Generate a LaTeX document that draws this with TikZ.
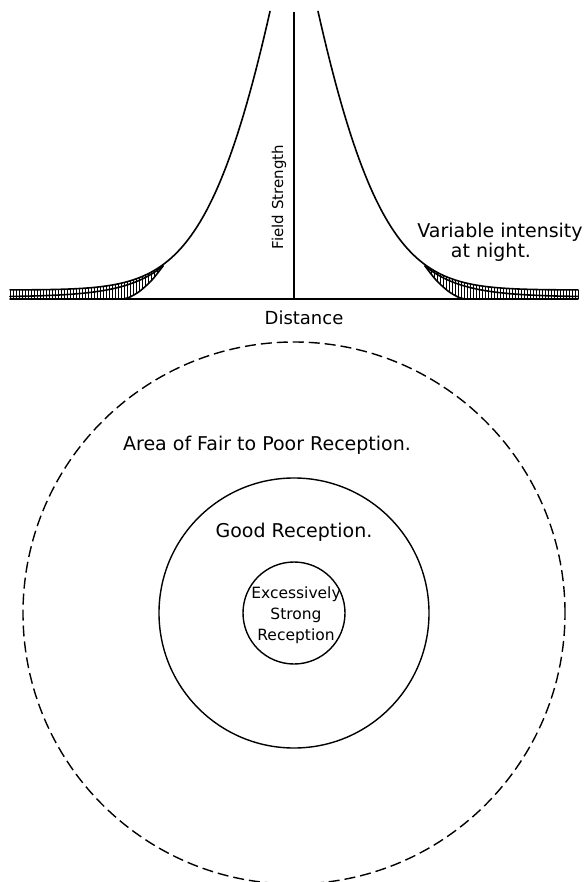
\documentclass[tikz,border=0pt]{standalone}
\usepackage{fontspec}
\setmainfont{DejaVu Sans}
\usepackage{tikz}
\usetikzlibrary{calc}

\begin{document}
\begin{tikzpicture}[x=1pt,y=-1pt,
    curve/.style={line width=1.6pt,line cap=round},
    axis/.style={line width=1.1pt},
    hatch/.style={line width=0.6pt},
    zone/.style={line width=1.4pt},
    label/.style={inner sep=0pt,font=\fontsize{19}{22}\selectfont}]
  \def\rOuter{271pt}
  \def\rGood{135pt}
  \def\rStrong{51pt}

  \useasboundingbox (0,0) rectangle (588,882);

  % top: field strength against distance
  \coordinate (O) at (294,299);
  \coordinate (T) at (294,12);
  \coordinate (L) at (10,299);
  \coordinate (R) at (578,299);

  \draw[axis] (L) -- (R);
  \draw[axis] (O) -- (T);

  \foreach \side in {1,-1} {
    \begin{scope}[xshift={294pt-\side*294pt},xscale=\side]
      % hatched band of night variation
      \begin{scope}
        \clip plot[domain=0:260,samples=90,variable=\u] ({270-\u},{290-exp(5.63-0.01588*\u-0.0000656*\u*\u)})
              -- (10,299) -- (123,299)
              -- plot[smooth] coordinates {(123,299) (130,297) (140,291) (152,280) (163,266)} -- cycle;
        \foreach \x in {10,13,...,163}
          \draw[hatch] (\x,260) -- (\x,300);
      \end{scope}
      \draw[curve] plot[domain=0:260,samples=90,variable=\u] ({270-\u},{290-exp(5.63-0.01588*\u-0.0000656*\u*\u)});
      \draw[curve] plot[domain=107:260,samples=50,variable=\u] ({270-\u},{297-31*exp(-(\u-107)/38)});
      \draw[curve] plot[smooth] coordinates {(163,266) (152,280) (140,291) (130,297) (123,299)} -- (10,299);
      \draw[hatch] (10,290) -- (10,299);
    \end{scope}
  }

  \node[label,rotate=90,font=\fontsize{15}{17}\selectfont] (fs) at (279,197) {Field Strength};
  \node[label,font=\fontsize{18}{21}\selectfont] (dist) at (304,318) {Distance};
  \node[label] (var) at (500,232) {Variable intensity};
  \node[label] (night) at (491,252) {at night.};

  % bottom: reception zones
  \coordinate (C) at (294,613);
  \draw[zone,dash pattern=on 11pt off 5pt] (C) circle[radius=\rOuter];
  \draw[zone] (C) circle[radius=\rGood];
  \draw[zone] (C) circle[radius=\rStrong];

  \node[label] (fair) at (267,445) {Area of Fair to Poor Reception.};
  \node[label] (good) at (294,532) {Good Reception.};
  \node[label,align=center,font=\fontsize{15.5}{21}\selectfont] (strong) at (296,615)
    {Excessively\\Strong\\Reception};
\end{tikzpicture}
\end{document}
